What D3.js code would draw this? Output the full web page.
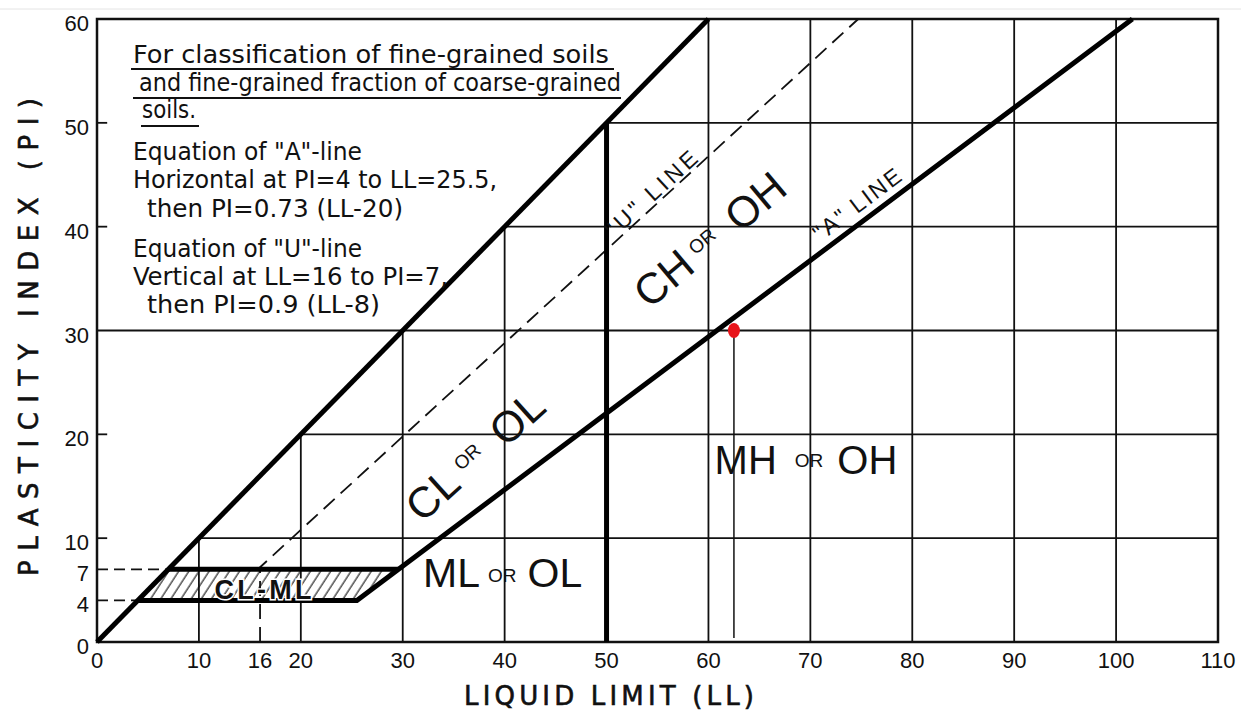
<!DOCTYPE html>
<meta charset="utf-8">
<style>
body { margin: 0; background: #fff; }
svg { display: block; }
.num { font: 22px "Liberation Sans", Arial, sans-serif; fill: #111; }
.note { font: 24px "DejaVu Sans Condensed", "DejaVu Sans", sans-serif; fill: #111; }
.zone { font-family: "Liberation Sans", Arial, sans-serif; fill: #111; }
.title { font: 26px "DejaVu Sans", sans-serif; fill: #111; stroke: #111; stroke-width: 0.6; }
</style>
<svg width="1241" height="711"></svg>
<script src="https://d3js.org/d3.v7.min.js"></script>
<script>

// ---- chart values (LL, PI) ----
var xTicks = [0, 10, 16, 20, 30, 40, 50, 60, 70, 80, 90, 100, 110];
var yTicks = [0, 4, 7, 10, 20, 30, 40, 50, 60];
var gridLL = [10, 20, 30, 40, 60, 70, 80, 90, 100];   // vertical grid, stops at PI = LL
var gridPI = [10, 20, 40, 50];                         // horizontal grid, starts at PI = LL
var sideTicks = [10, 20, 40, 50];
var boundary = [[0, 0], [60, 60]];                     // PI = LL
var aLine = [[4, 4], [25.5, 4], [101.6, 60]];
var clmlTop = [[7, 7], [29.6, 7]];
var ll50 = [[50, 0], [50, 50]];
var uLine = [[16, 0], [16, 7.2], [74.7, 60]];
var dash7 = [[0, 7], [7, 7]];
var dash4 = [[0, 4], [4, 4]];
var clmlZone = [[4, 4], [25.5, 4], [29.6, 7], [7, 7]];
var sample = [62.5, 30];

var notes = [
  "For classification of fine-grained soils",
  "and fine-grained fraction of coarse-grained",
  "soils.",
  "Equation of \"A\"-line",
  "Horizontal at PI=4 to LL=25.5,",
  "then PI=0.73 (LL-20)",
  "Equation of \"U\"-line",
  "Vertical at LL=16 to PI=7,",
  "then PI=0.9 (LL-8)"
];

var svg = d3.select("svg");
var x = d3.scaleLinear().domain([0, 110]).range([97, 1218]);
var y = d3.scaleLinear().domain([0, 60]).range([642, 19]);
var line = d3.line().x(function(d) { return x(d[0]); }).y(function(d) { return y(d[1]); });

// faint rule at the very top of the screenshot
svg.append("line").attr("x1", 0).attr("x2", 1241).attr("y1", 9).attr("y2", 9)
  .attr("stroke", "#e4e4e4").attr("stroke-width", 1);

var defs = svg.append("defs");
defs.append("pattern").attr("id", "hatch")
  .attr("patternUnits", "userSpaceOnUse").attr("width", 8.5).attr("height", 9)
  .attr("patternTransform", "rotate(33)")
  .append("line").attr("x1", 2).attr("y1", 0).attr("x2", 2).attr("y2", 9)
  .attr("stroke", "#111").attr("stroke-width", 1.1);

var g = svg.append("g");

// hatched CL-ML band
g.append("path").attr("d", line(clmlZone) + "Z").attr("fill", "url(#hatch)");

// grid
g.selectAll(".vgrid").data(gridLL).enter().append("line")
  .attr("x1", function(d) { return x(d); }).attr("x2", function(d) { return x(d); })
  .attr("y1", y(0)).attr("y2", function(d) { return y(Math.min(d, 60)); })
  .attr("stroke", "#111").attr("stroke-width", 1.8);
g.selectAll(".hgrid").data(gridPI).enter().append("line")
  .attr("x1", function(d) { return x(d); }).attr("x2", x(110))
  .attr("y1", function(d) { return y(d); }).attr("y2", function(d) { return y(d); })
  .attr("stroke", "#111").attr("stroke-width", 1.8);
g.selectAll(".stick").data(sideTicks).enter().append("line")
  .attr("x1", x(0)).attr("x2", x(1))
  .attr("y1", function(d) { return y(d); }).attr("y2", function(d) { return y(d); })
  .attr("stroke", "#111").attr("stroke-width", 1.8);

// line through the sample point
g.append("line").attr("x1", x(0)).attr("x2", x(110)).attr("y1", y(sample[1])).attr("y2", y(sample[1]))
  .attr("stroke", "#111").attr("stroke-width", 2);
g.append("line").attr("x1", x(sample[0])).attr("x2", x(sample[0])).attr("y1", y(sample[1])).attr("y2", y(0) - 4)
  .attr("stroke", "#111").attr("stroke-width", 1.5);

// frame
g.append("rect").attr("x", x(0)).attr("y", y(60)).attr("width", x(110) - x(0)).attr("height", y(0) - y(60))
  .attr("fill", "none").attr("stroke", "#111").attr("stroke-width", 2.5);

// dashed lines
g.append("path").attr("d", line(uLine)).attr("fill", "none").attr("stroke", "#111")
  .attr("stroke-width", 1.8).attr("stroke-dasharray", "15 8");
[dash7, dash4].forEach(function(p) {
  g.append("path").attr("d", line(p)).attr("fill", "none").attr("stroke", "#111")
    .attr("stroke-width", 1.8).attr("stroke-dasharray", "11 6");
});

// heavy lines
[boundary, aLine, clmlTop, ll50].forEach(function(p) {
  g.append("path").attr("d", line(p)).attr("fill", "none").attr("stroke", "#000")
    .attr("stroke-width", 5).attr("stroke-linejoin", "round");
});

// sample point
g.append("ellipse").attr("cx", x(sample[0])).attr("cy", y(sample[1])).attr("rx", 6).attr("ry", 7.5)
  .attr("fill", "#e8141b");

// tick labels
g.selectAll(".xl").data(xTicks).enter().append("text").attr("class", "num")
  .attr("x", function(d) { return x(d); }).attr("y", 668).attr("text-anchor", "middle")
  .text(function(d) { return d; });
g.selectAll(".yl").data(yTicks).enter().append("text").attr("class", "num")
  .attr("x", 89).attr("y", function(d) { return y(d) + 12; }).attr("font-size", 23).attr("text-anchor", "end")
  .text(function(d) { return d; });

// notes block
var noteX = [133, 139, 142, 133, 133, 147, 133, 133, 147];
var noteY = [63, 91, 118, 160, 188, 217, 257, 285, 313];
var noteW = [476, 482, 54, 229, 364, 256, 229, 315, 233];
g.selectAll(".note").data(notes).enter().append("text").attr("class", "note")
  .attr("x", function(d, i) { return noteX[i]; }).attr("y", function(d, i) { return noteY[i]; })
  .attr("textLength", function(d, i) { return noteW[i]; }).attr("lengthAdjust", "spacingAndGlyphs")
  .text(function(d) { return d; });
[[131, 614, 69], [133, 621, 98], [141, 199, 126]].forEach(function(u) {
  g.append("line").attr("x1", u[0]).attr("x2", u[1]).attr("y1", u[2]).attr("y2", u[2])
    .attr("stroke", "#111").attr("stroke-width", 2);
});

// zone labels
function zoneLabel(ll, pi, angle, parts) {
  var t = g.append("text").attr("class", "zone")
    .attr("transform", "translate(" + x(ll) + "," + y(pi) + ") rotate(" + angle + ")");
  parts.forEach(function(p) {
    t.append("tspan").attr("font-size", p[1]).attr("dx", p[2]).attr("dy", p[3]).text(p[0]);
  });
}
zoneLabel(32.0, 5.3, 0, [["ML", 41, 0, 0], ["OR", 19, 8, -5], ["OL", 41, 11, 5]]);
zoneLabel(60.6, 16.2, 0, [["MH", 40, 0, 0], ["OR", 19, 18, -7], ["OH", 40, 14, 7]]);
zoneLabel(31.9, 11.4, -42, [["CL", 43, 0, 0], ["OR", 19, 9, -13], ["OL", 43, 20, 13]]);
zoneLabel(54.2, 32.0, -40, [["CH", 43, 0, 0], ["OR", 19, 8, -12], ["OH", 43, 20, 12]]);

// line labels, sitting on their lines
g.append("text").attr("class", "zone").attr("font-size", 23)
  .attr("transform", "translate(" + x(50.9) + "," + y(38.6) + ") rotate(-42.5)")
  .attr("dy", -3).attr("textLength", 116).attr("lengthAdjust", "spacing")
  .text("\"U\" LINE");
g.append("text").attr("class", "zone").attr("font-size", 23)
  .attr("transform", "translate(" + x(71.2) + "," + y(38.2) + ") rotate(-37)")
  .attr("dy", -4).attr("textLength", 104).attr("lengthAdjust", "spacing")
  .text("\"A\" LINE");

// CL-ML label
g.append("text").attr("class", "zone").attr("font-size", 27).attr("font-weight", "bold")
  .attr("x", x(16.3)).attr("y", y(4) - 1).attr("text-anchor", "middle")
  .attr("stroke", "#fff").attr("stroke-width", 3).attr("paint-order", "stroke")
  .attr("textLength", 97).attr("lengthAdjust", "spacing")
  .text("CL-ML");

// axis titles
svg.append("text").attr("class", "title")
  .attr("transform", "translate(38," + 337 + ") rotate(-90)")
  .attr("text-anchor", "middle").attr("textLength", 478).attr("lengthAdjust", "spacing")
  .text("PLASTICITY INDEX (PI)");
svg.append("text").attr("class", "title").attr("font-size", 22)
  .attr("x", 609).attr("y", 705).attr("text-anchor", "middle")
  .attr("textLength", 290).attr("lengthAdjust", "spacing")
  .text("LIQUID LIMIT (LL)");

</script>
